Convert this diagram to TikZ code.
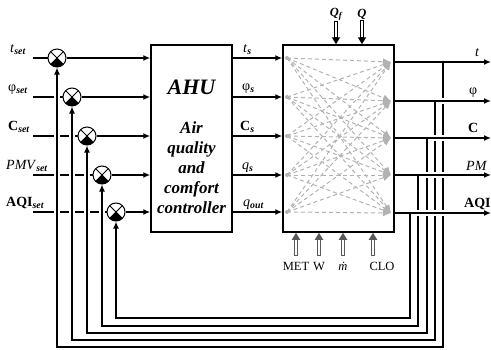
\documentclass[tikz,border=0pt]{standalone}
\usepackage{fontspec}
\setmainfont{Liberation Serif}
\usepackage{tikz}
\usetikzlibrary{positioning, arrows.meta}
\newcommand{\subtxt}[1]{\textsubscript{\bfseries\itshape #1}}

\begin{document}
\begin{tikzpicture}[x=1pt, y=-1pt,
            blockbox/.style={draw, line width=1.5pt, minimum width=81pt, minimum height=187pt, inner sep=0pt},
            sumnode/.style={draw, circle, line width=1pt, minimum size=18pt, inner sep=0pt, path picture={
                \fill (path picture bounding box.center) -- (path picture bounding box.south west) -- (path picture bounding box.south east) -- cycle;
                \draw[line width=0.8pt] (path picture bounding box.south west) -- (path picture bounding box.north east)
                    (path picture bounding box.north west) -- (path picture bounding box.south east);}},
            lbl/.style={font=\fontsize{14}{16}\selectfont, inner sep=0pt, anchor=base west},
            note/.style={font=\fontsize{12.5}{14}\selectfont, inner sep=1pt},
            sigline/.style={line width=1.5pt},
            arrow/.style={-{Latex[length=7pt, width=6pt]}, line width=1.5pt},
            cutgap/.style={white, line width=6pt},
            mesh/.style={gray!60, line width=1pt, dash pattern=on 4pt off 3pt, -{Latex[length=8pt, width=7pt]}},
            dblarrow/.style={line width=3.6pt, -{Triangle[length=7pt, width=8pt]}, postaction={draw=white, line width=1.2pt, -, shorten >=7pt, shorten <=0.8pt}}
        ]
            \useasboundingbox (0,0) rectangle (491,349);

            % blocks
            \node[blockbox] (ahu) at (191.5,138.5) {};
            \node[blockbox, minimum width=111pt] (plant) at (338.5,138.5) {};
            \node[font=\fontsize{22}{24}\selectfont\bfseries\itshape] (ahutitle) at (191.5,87) {AHU};
            \node[font=\fontsize{17}{20}\selectfont\bfseries\itshape, align=center] (ahutext) at (191.5,168) {Air\\quality\\and\\comfort\\controller};

            % junctions, set points and loop corners
            \foreach \n/\x/\y/\ry/\bx/\by in {1/57/58/62/443/347, 2/72/97/101/435/340, 3/87/136/138/427/333, 4/102/175/175/418/326, 5/116/212/213/410/318} {
                \node[sumnode] (s\n) at (\x,\y) {};
                \coordinate (in\n) at (33,\y);
                \coordinate (m\n) at (287,\y);
                \coordinate (r\n) at (391,\ry);
                \coordinate (b\n) at (\bx,\ry);
                \coordinate (e\n) at (491,\ry);
                \coordinate (f\n) at (\x,\by);
            }

            \node[lbl] (tset) at (10,52) {\textit{t}\subtxt{set}};
            \node[lbl] (phiset) at (8,91) {φ\subtxt{set}};
            \node[lbl] (cset) at (8,130) {\textbf{C}\subtxt{set}};
            \node[lbl] (pmvset) at (6,169) {\textit{PMV}\subtxt{set}};
            \node[lbl] (aqiset) at (6,206) {\textbf{AQI}\subtxt{set}};

            \node[lbl] (ts) at (243,52) {\textit{t}\subtxt{s}};
            \node[lbl] (phis) at (242,90) {φ\subtxt{s}};
            \node[lbl] (cs) at (240,130) {\textbf{C}\subtxt{s}};
            \node[lbl] (qs) at (242,169) {\textit{q}\subtxt{s}};
            \node[lbl] (qout) at (243,206) {\textit{q}\subtxt{out}};

            \node[lbl] (tout) at (475,56) {\textit{t}};
            \node[lbl] (phiout) at (469,94) {φ};
            \node[lbl] (cout) at (468,132) {\textbf{C}};
            \node[lbl] (pmout) at (466,170) {\textit{PM}};
            \node[lbl] (aqiout) at (464,207) {\textbf{AQI}};

            % disturbances
            \node[note] (qf) at (336,14) {\textbf{\textit{Q}}\subtxt{f}};
            \node[note] (qq) at (362,14) {\textbf{\textit{Q}}};
            \node[note] (met) at (296,266) {MET};
            \node[note] (wlbl) at (319,266) {W};
            \node[note] (mdot) at (343,266) {\textit{\.{m}}};
            \node[note] (clo) at (382,266) {CLO};

            \draw[dblarrow] (qf.south) -- (qf.south |- plant.north);
            \draw[dblarrow] (qq.south) -- (qq.south |- plant.north);
            \foreach \d in {met, wlbl, mdot}
                \draw[dblarrow, gray!70!black] ([yshift=5pt]\d.north) -- (\d.north |- plant.south);
            \draw[dblarrow, gray!70!black] ([xshift=-9pt, yshift=5pt]clo.north) -- ([xshift=-9pt]clo.north |- plant.south);

            % signal paths
            \foreach \n in {1,...,5} {
                \draw[sigline] (in\n) -- (s\n.west);
                \draw[arrow] (s\n.east) -- (s\n -| ahu.west);
                \draw[arrow] (s\n -| ahu.east) -- (s\n -| plant.west);
                \fill[gray!60] (m\n) circle (2pt);
                \foreach \k in {1,...,5}
                    \draw[mesh] (m\n) -- (r\k);
            }

            % feedback loops
            \foreach \n in {1,...,5}
                \draw[cutgap] ([yshift=-3pt]s\n.south) -- (f\n);
            \foreach \n in {1,...,5}
                \draw[arrow] (b\n) |- (f\n) -- (s\n.south);
            \foreach \n in {1,...,5} {
                \draw[cutgap] ([xshift=3pt]b\n) -- (e\n);
                \draw[arrow] (b\n -| plant.east) -- (e\n);
            }

        \end{tikzpicture}
\end{document}
